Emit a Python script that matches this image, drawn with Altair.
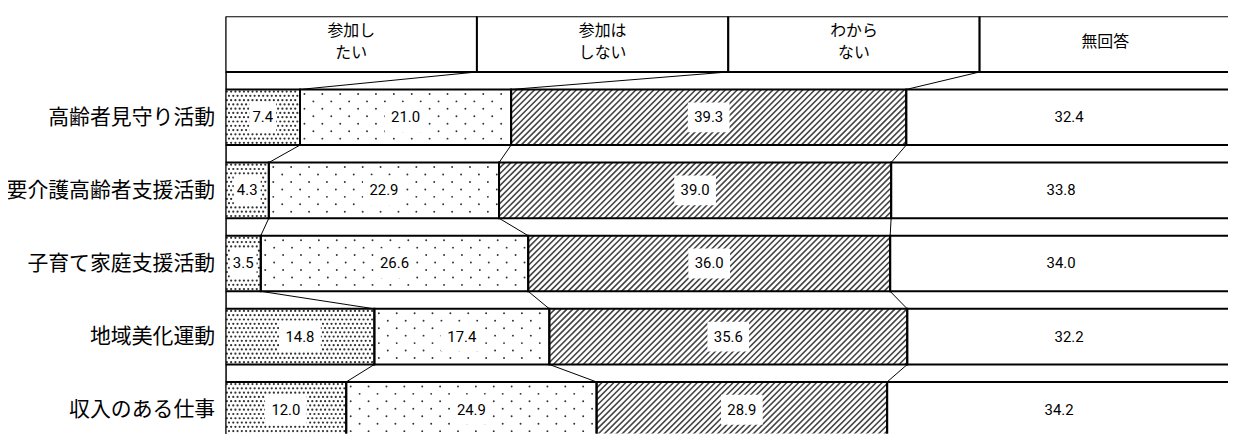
import json
import altair as alt
import pandas as pd

# ---------------- data ----------------
categories = ["高齢者見守り活動", "要介護高齢者支援活動", "子育て家庭支援活動", "地域美化運動", "収入のある仕事"]
series_names = ["参加したい", "参加はしない", "わからない", "無回答"]
header_labels = ["参加し\nたい", "参加は\nしない", "わから\nない", "無回答"]
header_share = [25, 25, 25, 25]

v_s1 = [7.4, 4.3, 3.5, 14.8, 12.0]
v_s2 = [21.0, 22.9, 26.6, 17.4, 24.9]
v_s3 = [39.3, 39.0, 36.0, 35.6, 28.9]
v_s4 = [32.4, 33.8, 34.0, 32.2, 34.2]

# ---------------- geometry (style constants) ----------------
PX_PCT = 10.12      # pixels per percent
ROW_PX = 73.6       # pixels per row step
H = 28 / ROW_PX     # half bar height in row units
W = 1009
HGT = 420
X_MAX = W / PX_PCT
Y_MIN = -H
Y_MAX = Y_MIN + HGT / ROW_PX
LINE_H = 22 / ROW_PX

# ---------------- tables built from the arrays ----------------
seg_rows = []
bounds = {0: [sum(header_share[:k + 1]) for k in range(3)]}
for i, cat in enumerate(categories):
    vals = [v_s1[i], v_s2[i], v_s3[i], v_s4[i]]
    s = 0.0
    b = []
    for k, v in enumerate(vals):
        e = round(s + v, 1)
        seg_rows.append(dict(row=i + 1, k=k, series=series_names[k], s=s, e=e, label=f"{v:.1f}"))
        if k < 3:
            b.append(e)
        s = e
    bounds[i + 1] = b
seg = pd.DataFrame(seg_rows)

hdr_rows = []
txt_rows = []
s = 0
for k, lab in enumerate(header_labels):
    hdr_rows.append(dict(row=0, k=k, s=s, e=s + header_share[k]))
    parts = lab.split("\n")
    for j, p in enumerate(parts):
        txt_rows.append(dict(row=0, s=s, e=s + header_share[k], j=j, n=len(parts), text=p))
    s += header_share[k]
hdr = pd.DataFrame(hdr_rows)
hdr_txt = pd.DataFrame(txt_rows)

con_rows = []
for r in range(len(categories)):
    for k in range(3):
        con_rows.append(dict(r=r, b0=bounds[r][k], b1=bounds[r + 1][k]))
con = pd.DataFrame(con_rows)

# ---------------- scales / axes ----------------
xs = alt.Scale(domain=[0, X_MAX], nice=False, zero=False)
ys = alt.Scale(domain=[Y_MIN, Y_MAX], nice=False, zero=False, reverse=True)
label_expr = json.dumps(categories, ensure_ascii=False) + "[datum.value - 1]"
yaxis = alt.Axis(values=[1, 2, 3, 4, 5], labelExpr=label_expr, title=None, ticks=False, grid=False,
                 domain=True, domainColor="black", domainWidth=1.5, labelPadding=11, labelLimit=400,
                 labelFont="Noto Sans CJK JP", labelFontSize=21, labelColor="black", labelAlign="right")


def X(f):
    return alt.X(f, type="quantitative", scale=xs, axis=None)


def Y(f):
    return alt.Y(f, type="quantitative", scale=ys, axis=yaxis)


TEX = "#333333"

seg_base = alt.Chart(seg).transform_calculate(
    y0=f"datum.row - {H}", y1=f"datum.row + {H}", mid="(datum.s + datum.e) / 2"
)

bars_fill = seg_base.mark_rect(fill="white", clip=True).encode(
    x=X("s"), x2="e", y=Y("y0"), y2="y1"
)

# dense dots (segment 1)
P1x, P1y = 4.3 / PX_PCT, 4.3 / ROW_PX
dots1 = seg_base.transform_filter("datum.k == 0").transform_calculate(
    ci=f"sequence(0, ceil((datum.e - datum.s) / {P1x}))"
).transform_flatten(["ci"]).transform_calculate(
    ri="sequence(0, 13)"
).transform_flatten(["ri"]).transform_calculate(
    dx=f"datum.s + (datum.ci + 0.3 + (datum.ri % 2) * 0.5) * {P1x}",
    dy=f"datum.row - {H} + (datum.ri + 0.5) * {P1y}",
).transform_filter(f"datum.dx < datum.e - {1.5 / PX_PCT}").mark_circle(
    size=5, color=TEX, opacity=1, clip=True
).encode(x=X("dx"), y=Y("dy"))

# sparse dots (segment 2)
P2x, P2y = 18 / PX_PCT, 7.5 / ROW_PX
dots2 = seg_base.transform_filter("datum.k == 1").transform_calculate(
    ci=f"sequence(0, ceil((datum.e - datum.s) / {P2x}))"
).transform_flatten(["ci"]).transform_calculate(
    ri="sequence(0, 7)"
).transform_flatten(["ri"]).transform_calculate(
    dx=f"datum.s + (datum.ci + 0.25 + (datum.ri % 2) * 0.5) * {P2x}",
    dy=f"datum.row - {H} + (datum.ri + 0.6) * {P2y}",
).transform_filter(f"datum.dx < datum.e - {2 / PX_PCT}").mark_circle(
    size=3.8, color=TEX, opacity=1, clip=True
).encode(x=X("dx"), y=Y("dy"))

# hatching (segment 3)
PH = 6 / PX_PCT
DX = 56 / PX_PCT
hatch = seg_base.transform_filter("datum.k == 2").transform_calculate(
    ti=f"sequence(0, ceil((datum.e - datum.s + {DX}) / {PH}))"
).transform_flatten(["ti"]).transform_calculate(
    t=f"datum.s - {DX} + datum.ti * {PH}"
).transform_calculate(
    fa=f"max(0, (datum.s - datum.t) / {DX})",
    fb=f"min(1, (datum.e - datum.t) / {DX})",
).transform_filter("datum.fa < datum.fb").transform_calculate(
    xa=f"datum.t + datum.fa * {DX}",
    xb=f"datum.t + datum.fb * {DX}",
    ya=f"datum.row + {H} - datum.fa * {2 * H}",
    yb=f"datum.row + {H} - datum.fb * {2 * H}",
).mark_rule(color="#444444", strokeWidth=1.6, clip=True).encode(
    x=X("xa"), x2="xb", y=Y("ya"), y2="yb"
)

bars_outline = seg_base.mark_rect(filled=False, stroke="black", strokeWidth=2, clip=True).encode(
    x=X("s"), x2="e", y=Y("y0"), y2="y1"
)

# white boxes behind numbers
boxes = seg_base.transform_filter("datum.k < 3").transform_calculate(
    bw=f"length(datum.label) > 3 ? {21 / PX_PCT} : {13.5 / PX_PCT}"
).transform_calculate(
    bx0="datum.mid - datum.bw", bx1="datum.mid + datum.bw",
    by0=f"datum.row - {15 / ROW_PX}", by1=f"datum.row + {15 / ROW_PX}",
).mark_rect(fill="white", clip=True).encode(
    x=X("bx0"), x2="bx1", y=Y("by0"), y2="by1"
)

nums = seg_base.mark_text(
    font="Roboto", fontSize=15, color="black", align="center", baseline="middle", clip=True
).encode(x=X("mid"), y=Y("row"), text="label:N")

# connector lines
connectors = alt.Chart(con).transform_calculate(
    ya=f"datum.r + {H}", yb=f"datum.r + 1 - {H}"
).mark_rule(color="black", strokeWidth=1, clip=True).encode(
    x=X("b0"), x2="b1", y=Y("ya"), y2="yb"
)

# header boxes
hdr_boxes = alt.Chart(hdr).transform_calculate(
    y0=f"datum.row - {H}", y1=f"datum.row + {H}"
).mark_rect(fill="white", stroke="black", strokeWidth=2, clip=True).encode(
    x=X("s"), x2="e", y=Y("y0"), y2="y1"
)
hdr_text = alt.Chart(hdr_txt).transform_calculate(
    mid="(datum.s + datum.e) / 2",
    ty=f"datum.row + (datum.j - (datum.n - 1) / 2) * {LINE_H} - {2 / ROW_PX}",
).mark_text(
    font="Noto Sans CJK JP", fontSize=16, color="black",
    align="center", baseline="middle", clip=True
).encode(x=X("mid"), y=Y("ty"), text="text:N")

chart = alt.layer(
    bars_fill, dots1, dots2, hatch, bars_outline, boxes, nums, connectors, hdr_boxes, hdr_text
).properties(
    width=W, height=HGT,
    autosize=alt.AutoSizeParams(type="none"),
    padding={"left": 219, "top": 7, "right": 0, "bottom": 0},
    background="white",
).configure_view(stroke=None)

chart.save("out.html", embed_options={"renderer": "svg", "actions": False})
